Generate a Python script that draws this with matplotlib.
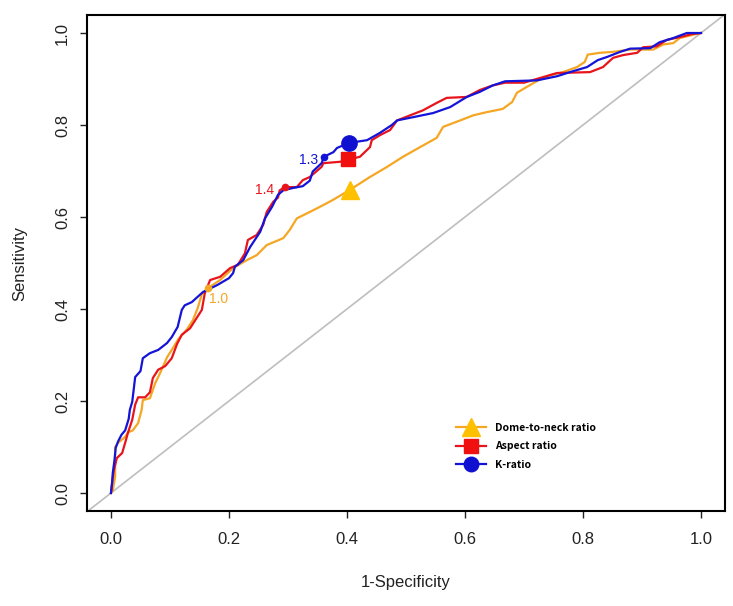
import matplotlib.pyplot as plt
from matplotlib.lines import Line2D

# ROC curves (1-specificity, sensitivity)
k_fpr = [0, 0.002, 0.003, 0.006, 0.008, 0.012, 0.018, 0.024, 0.03, 0.032,
         0.036, 0.039, 0.041, 0.05, 0.054, 0.066, 0.08, 0.095, 0.103, 0.113,
         0.12, 0.125, 0.137, 0.156, 0.18, 0.2, 0.207, 0.21, 0.224, 0.236,
         0.253, 0.261, 0.273, 0.283, 0.292, 0.308, 0.325, 0.337, 0.342, 0.357,
         0.361, 0.377, 0.383, 0.403, 0.434, 0.456, 0.476, 0.485, 0.512, 0.546,
         0.575, 0.603, 0.625, 0.647, 0.668, 0.722, 0.756, 0.778, 0.807, 0.825,
         0.841, 0.863, 0.88, 0.914, 0.93, 0.953, 0.976, 1.0]
k_tpr = [0, 0.023, 0.043, 0.072, 0.098, 0.112, 0.127, 0.136, 0.161, 0.181,
         0.198, 0.230, 0.252, 0.265, 0.293, 0.304, 0.311, 0.326, 0.339, 0.361,
         0.398, 0.408, 0.415, 0.437, 0.452, 0.467, 0.478, 0.492, 0.506, 0.535,
         0.568, 0.597, 0.622, 0.648, 0.658, 0.663, 0.667, 0.679, 0.699, 0.717,
         0.731, 0.741, 0.750, 0.761, 0.767, 0.783, 0.800, 0.810, 0.817, 0.826,
         0.839, 0.861, 0.872, 0.886, 0.895, 0.897, 0.906, 0.915, 0.926, 0.941,
         0.948, 0.959, 0.966, 0.967, 0.980, 0.989, 1.0, 1.0]

ar_fpr = [0, 0.002, 0.005, 0.01, 0.019, 0.024, 0.029, 0.036, 0.041, 0.046,
          0.058, 0.066, 0.071, 0.08, 0.092, 0.103, 0.112, 0.12, 0.134, 0.146,
          0.154, 0.159, 0.168, 0.185, 0.202, 0.215, 0.227, 0.232, 0.247, 0.258,
          0.264, 0.275, 0.283, 0.286, 0.295, 0.315, 0.325, 0.337, 0.357, 0.36,
          0.388, 0.422, 0.439, 0.442, 0.456, 0.473, 0.485, 0.507, 0.529, 0.552,
          0.569, 0.603, 0.625, 0.647, 0.668, 0.70, 0.724, 0.756, 0.812, 0.834,
          0.851, 0.868, 0.892, 0.902, 0.925, 0.942, 0.964, 0.986, 1.0]
ar_tpr = [0, 0.024, 0.050, 0.076, 0.087, 0.109, 0.132, 0.159, 0.192, 0.208,
          0.208, 0.219, 0.250, 0.268, 0.276, 0.293, 0.324, 0.344, 0.358, 0.382,
          0.398, 0.434, 0.463, 0.470, 0.489, 0.496, 0.521, 0.550, 0.561, 0.583,
          0.611, 0.633, 0.642, 0.658, 0.665, 0.665, 0.680, 0.687, 0.709, 0.717,
          0.720, 0.731, 0.752, 0.767, 0.778, 0.789, 0.810, 0.821, 0.832, 0.848,
          0.859, 0.861, 0.876, 0.886, 0.892, 0.892, 0.901, 0.913, 0.915, 0.926,
          0.946, 0.952, 0.957, 0.969, 0.971, 0.985, 0.991, 0.998, 1.0]

dn_fpr = [0, 0.003, 0.007, 0.007, 0.012, 0.024, 0.029, 0.037, 0.046, 0.052,
          0.054, 0.066, 0.075, 0.08, 0.088, 0.095, 0.103, 0.114, 0.129, 0.139,
          0.147, 0.154, 0.164, 0.185, 0.207, 0.23, 0.247, 0.264, 0.292, 0.303,
          0.315, 0.337, 0.354, 0.376, 0.405, 0.417, 0.439, 0.468, 0.495, 0.524,
          0.552, 0.563, 0.592, 0.614, 0.637, 0.664, 0.68, 0.688, 0.705, 0.724,
          0.744, 0.766, 0.79, 0.803, 0.808, 0.829, 0.851, 0.88, 0.919, 0.936,
          0.953, 0.964, 0.986, 1.0]
dn_tpr = [0, 0.005, 0.035, 0.100, 0.109, 0.122, 0.132, 0.136, 0.152, 0.181,
          0.202, 0.206, 0.239, 0.252, 0.274, 0.295, 0.311, 0.334, 0.356, 0.376,
          0.402, 0.432, 0.445, 0.463, 0.489, 0.506, 0.517, 0.539, 0.554, 0.572,
          0.597, 0.611, 0.622, 0.637, 0.659, 0.669, 0.687, 0.709, 0.731, 0.752,
          0.772, 0.796, 0.810, 0.821, 0.828, 0.835, 0.850, 0.870, 0.883, 0.897,
          0.908, 0.915, 0.926, 0.937, 0.953, 0.957, 0.959, 0.964, 0.964, 0.975,
          0.978, 0.989, 0.996, 1.0]

# overall operating points (big markers) and labelled cut-off points
best_fpr = [0.405, 0.402, 0.403]
best_tpr = [0.659, 0.726, 0.761]
cut_fpr = [0.164, 0.295, 0.361]
cut_tpr = [0.446, 0.665, 0.730]
cut_labels = ["1.0", "1.4", "1.3"]
names = ["Dome-to-neck ratio", "Aspect ratio", "K-ratio"]

line_cols = ["#F5A623", "#E8141C", "#1414D8"]
mark_cols = ["#FFC000", "#F01010", "#1010D0"]
markers = ["^", "s", "o"]
msizes = [13, 10, 11]

plt.rcParams["font.family"] = ["Liberation Sans", "DejaVu Sans"]

fig = plt.figure(figsize=(7.33, 6.06), dpi=100)
ax = fig.add_axes([0.1192, 0.1561, 0.8693, 0.8198])

ax.axline((0, 0), (1, 1), color="#BEBEBE", lw=1.2, zorder=1)

curves = [(dn_fpr, dn_tpr), (ar_fpr, ar_tpr), (k_fpr, k_tpr)]
for i, (fx, fy) in enumerate(curves):
    ax.plot(fx, fy, color=line_cols[i], lw=1.6, zorder=2 + i)

for i in range(3):
    ax.plot(best_fpr[i], best_tpr[i], marker=markers[i], ms=msizes[i],
            color=mark_cols[i], mec=mark_cols[i], ls="none", zorder=6)
    ax.plot(cut_fpr[i], cut_tpr[i], marker="o", ms=4.5, color=line_cols[i],
            ls="none", zorder=6)

ax.annotate(cut_labels[0], (cut_fpr[0], cut_tpr[0]), xytext=(1, -8),
            textcoords="offset points", ha="left", va="center",
            color=line_cols[0], fontsize=10)
ax.annotate(cut_labels[1], (cut_fpr[1], cut_tpr[1]), xytext=(-8, -2),
            textcoords="offset points", ha="right", va="center",
            color=line_cols[1], fontsize=10)
ax.annotate(cut_labels[2], (cut_fpr[2], cut_tpr[2]), xytext=(-4, -2),
            textcoords="offset points", ha="right", va="center",
            color=line_cols[2], fontsize=10)

handles = [Line2D([], [], color=line_cols[i], lw=1.6, marker=markers[i],
                  ms=msizes[i] * 0.95, mfc=mark_cols[i], mec=mark_cols[i])
           for i in range(3)]
leg = ax.legend(handles, names, loc="upper left", bbox_to_anchor=(0.578, 0.178),
                frameon=False, handlelength=2.9, handletextpad=0.9,
                labelspacing=0.8, borderpad=0, borderaxespad=0,
                prop={"family": ["Noto Sans CJK KR", "DejaVu Sans"],
                      "weight": "bold", "size": 7.5})

ax.set_xlim(-0.04, 1.04)
ax.set_ylim(-0.04, 1.04)
ticks = [0, 0.2, 0.4, 0.6, 0.8, 1.0]
tick_labels = ["0.0", "0.2", "0.4", "0.6", "0.8", "1.0"]
ax.set_xticks(ticks)
ax.set_xticklabels(tick_labels)
ax.set_yticks(ticks)
ax.set_yticklabels(tick_labels, rotation=90, va="center")
ax.tick_params(axis="x", length=5, width=1, pad=10, labelsize=12, colors="#222222")
ax.tick_params(axis="y", length=5, width=1, pad=7.5, labelsize=12, colors="#222222")
for s in ax.spines.values():
    s.set_linewidth(1.5)

ax.set_xlabel("1-Specificity", fontsize=12, labelpad=20, color="#222222")
ax.set_ylabel("Sensitivity", fontsize=12, labelpad=20, color="#222222")

fig.savefig("out.png", dpi=100)
